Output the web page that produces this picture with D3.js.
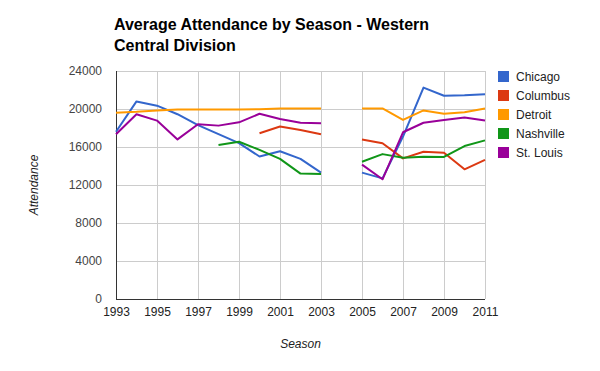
<!DOCTYPE html>
<html>
<head>
<meta charset="utf-8">
<script src="https://cdn.jsdelivr.net/npm/d3@7"></script>
<style>
  body { margin: 0; background: #fff; }
  svg { font-family: Arial, "Liberation Sans", sans-serif; }
</style>
</head>
<body>
<div id="chart"></div>
<script>
// seasons, 2004 has no data (lockout)
const seasons = [1993, 1994, 1995, 1996, 1997, 1998, 1999, 2000, 2001, 2002, 2003, 2004, 2005, 2006, 2007, 2008, 2009, 2010, 2011]
const chicago = [17600, 20800, 20350, 19450, 18300, 17350, 16400, 15000, 15550, 14750, 13300, null, 13300, 12700, 17100, 22250, 21400, 21450, 21550]
const columbus = [null, null, null, null, null, null, null, 17450, 18150, 17800, 17350, null, 16800, 16400, 14800, 15500, 15400, 13650, 14650]
const detroit = [19600, 19700, 19850, 19950, 19950, 19950, 19950, 19980, 20050, 20050, 20050, null, 20050, 20060, 18850, 19850, 19500, 19650, 20060]
const nashville = [null, null, null, null, null, 16200, 16550, 15700, 14750, 13200, 13150, null, 14450, 15250, 14880, 14980, 14950, 16100, 16700]
const stLouis = [17350, 19450, 18780, 16800, 18400, 18250, 18600, 19500, 18950, 18550, 18500, null, 14150, 12600, 17550, 18550, 18850, 19100, 18780]

const seriesNames = ['Chicago', 'Columbus', 'Detroit', 'Nashville', 'St. Louis']
const seriesValues = [chicago, columbus, detroit, nashville, stLouis]
const colors = ['#3366cc', '#dc3912', '#ff9900', '#109618', '#990099']
const yTicks = [0, 4000, 8000, 12000, 16000, 20000, 24000]
const xTicks = [1993, 1995, 1997, 1999, 2001, 2003, 2005, 2007, 2009, 2011]

const W = 600, H = 371
const margin = { top: 71, right: 115, bottom: 72, left: 116 }
const width = W - margin.left - margin.right
const height = H - margin.top - margin.bottom

const svg = d3.select('#chart').append('svg')
  .attr('width', W)
  .attr('height', H)

const g = svg.append('g')
  .attr('transform', `translate(${margin.left},${margin.top})`)

const x = d3.scaleLinear().domain([1993, 2011]).range([0, width])
const y = d3.scaleLinear().domain([0, 24000]).range([height, 0])

// gridlines
g.append('g')
  .selectAll('line')
  .data(yTicks)
  .enter()
  .append('line')
  .attr('x1', 0)
  .attr('x2', width)
  .attr('y1', (d) => y(d) + 0.5)
  .attr('y2', (d) => y(d) + 0.5)
  .attr('stroke', '#cccccc')

g.append('g')
  .selectAll('line')
  .data(xTicks)
  .enter()
  .append('line')
  .attr('x1', (d) => x(d) + 0.5)
  .attr('x2', (d) => x(d) + 0.5)
  .attr('y1', 0)
  .attr('y2', height)
  .attr('stroke', '#cccccc')

// tick labels
const yAxis = g.append('g')
  .call(d3.axisLeft(y).tickValues(yTicks).tickSize(0).tickPadding(14).tickFormat(d3.format('d')))
yAxis.select('.domain').remove()
yAxis.selectAll('text')
  .attr('fill', '#444444')
  .style('font-size', '12px')

const xAxis = g.append('g')
  .attr('transform', `translate(0,${height})`)
  .call(d3.axisBottom(x).tickValues(xTicks).tickSize(0).tickPadding(8).tickFormat(d3.format('d')))
xAxis.select('.domain').remove()
xAxis.selectAll('text')
  .attr('fill', '#222222')
  .style('font-size', '12px')

// axis lines
g.append('line')
  .attr('x1', 0.5).attr('x2', 0.5)
  .attr('y1', 0).attr('y2', height)
  .attr('stroke', '#333333')
g.append('line')
  .attr('x1', 0).attr('x2', width)
  .attr('y1', height + 0.5).attr('y2', height + 0.5)
  .attr('stroke', '#333333')

// series lines
const line = d3.line()
  .defined((d) => d != null)
  .x((d, i) => x(seasons[i]))
  .y((d) => y(d))

g.selectAll('.series')
  .data(seriesValues)
  .enter()
  .append('path')
  .attr('class', 'series')
  .attr('d', (d) => line(d))
  .attr('fill', 'none')
  .attr('stroke', (d, i) => colors[i])
  .attr('stroke-width', 2)
  .attr('stroke-linejoin', 'round')

// title
const title = svg.append('text')
  .attr('x', 114)
  .attr('y', 30)
  .style('font-size', '16px')
  .style('font-weight', 'bold')
  .attr('fill', '#000')
title.append('tspan').text('Average Attendance by Season - Western')
title.append('tspan').attr('x', 114).attr('dy', 21).text('Central Division')

// axis titles
svg.append('text')
  .attr('x', margin.left + width / 2)
  .attr('y', 348)
  .attr('text-anchor', 'middle')
  .style('font-size', '12px')
  .style('font-style', 'italic')
  .attr('fill', '#222222')
  .text('Season')

svg.append('text')
  .attr('transform', `translate(38,${margin.top + height / 2}) rotate(-90)`)
  .attr('text-anchor', 'middle')
  .style('font-size', '12px')
  .style('font-style', 'italic')
  .attr('fill', '#222222')
  .text('Attendance')

// legend
const legend = svg.append('g')
  .attr('transform', 'translate(498,71)')
const item = legend.selectAll('g')
  .data(seriesNames)
  .enter()
  .append('g')
  .attr('transform', (d, i) => `translate(0,${i * 19})`)
item.append('rect')
  .attr('width', 11)
  .attr('height', 11)
  .attr('fill', (d, i) => colors[i])
item.append('text')
  .attr('x', 18)
  .attr('y', 10)
  .style('font-size', '12px')
  .attr('fill', '#222222')
  .text((d) => d)
</script>
</body>
</html>
